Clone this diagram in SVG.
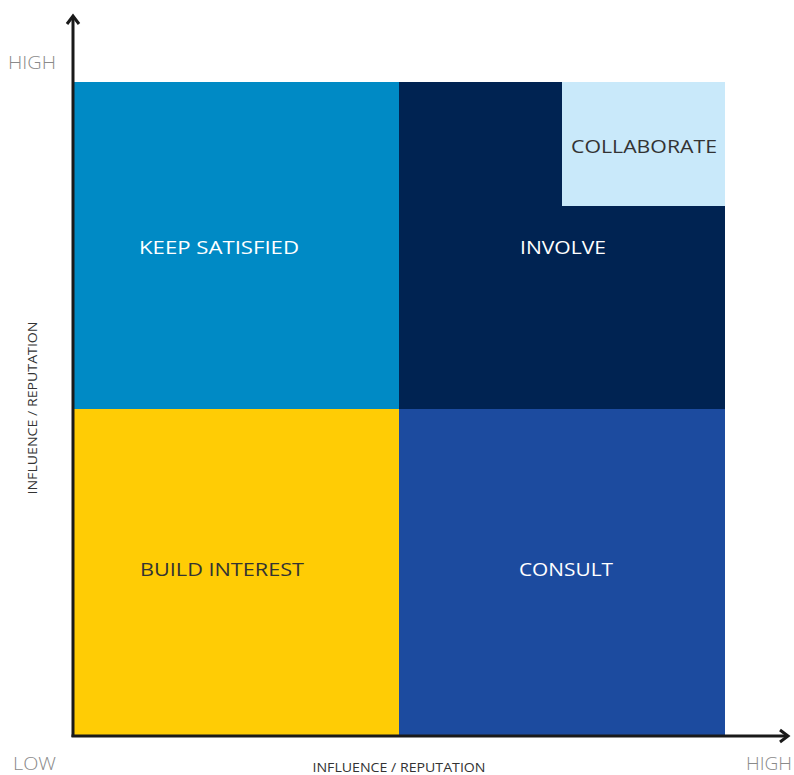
<svg xmlns="http://www.w3.org/2000/svg" width="794" height="775" viewBox="0 0 794 775">
<style>
.lbl{font-family:"Open Sans","Liberation Sans",sans-serif;font-size:19px;text-anchor:middle}
.w{fill:#ffffff}
.d{fill:#333333}
.end{font-family:"Open Sans","Liberation Sans",sans-serif;font-size:19px;font-weight:300;fill:#8a8a8a}
.ax{font-family:"Open Sans","Liberation Sans",sans-serif;font-size:13px;fill:#333333;text-anchor:middle}
.axis{stroke:#1a1a1a;stroke-width:3;fill:none}
</style>
<rect width="794" height="775" fill="#ffffff"/>
<g id="keep-satisfied">
<rect x="74" y="82" width="325" height="327" fill="#008AC5"/>
<text class="lbl w" x="219" y="254" textLength="160" lengthAdjust="spacingAndGlyphs">KEEP SATISFIED</text>
</g>
<g id="involve">
<rect x="399" y="82" width="326" height="327" fill="#002352"/>
<text class="lbl w" x="563" y="254" textLength="86" lengthAdjust="spacingAndGlyphs">INVOLVE</text>
</g>
<g id="collaborate">
<rect x="562" y="82" width="163" height="124" fill="#C9E9FA"/>
<text class="lbl d" x="644" y="153" textLength="146" lengthAdjust="spacingAndGlyphs">COLLABORATE</text>
</g>
<g id="build-interest">
<rect x="74" y="409" width="325" height="327" fill="#FFCC05"/>
<text class="lbl d" x="222" y="576" textLength="164" lengthAdjust="spacingAndGlyphs">BUILD INTEREST</text>
</g>
<g id="consult">
<rect x="399" y="409" width="326" height="327" fill="#1C4B9F"/>
<text class="lbl w" x="566" y="576" textLength="94" lengthAdjust="spacingAndGlyphs">CONSULT</text>
</g>
<g id="connectors">
<line class="axis" x1="73" y1="16" x2="73" y2="737"/>
<polyline class="axis" points="67,24 73,16 79,24"/>
<line class="axis" x1="71.5" y1="736" x2="788" y2="736"/>
<polyline class="axis" points="780,730 788,736 780,742"/>
</g>
<g id="axis-labels">
<text class="end" x="8" y="69" textLength="48" lengthAdjust="spacingAndGlyphs">HIGH</text>
<text class="end" x="13" y="770" textLength="43" lengthAdjust="spacingAndGlyphs">LOW</text>
<text class="end" x="746" y="770" textLength="46" lengthAdjust="spacingAndGlyphs">HIGH</text>
<text class="ax" x="399" y="772" textLength="173" lengthAdjust="spacingAndGlyphs">INFLUENCE / REPUTATION</text>
<text class="ax" transform="translate(37,408) rotate(-90)" textLength="173" lengthAdjust="spacingAndGlyphs">INFLUENCE / REPUTATION</text>
</g>
</svg>
